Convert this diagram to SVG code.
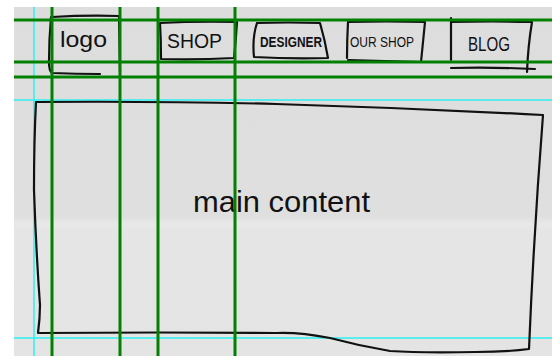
<svg xmlns="http://www.w3.org/2000/svg" width="552" height="356" viewBox="0 0 552 356">
  <defs>
    <linearGradient id="paper" x1="0" y1="0" x2="0" y2="1">
      <stop offset="0" stop-color="#dddddd"/>
      <stop offset="0.6" stop-color="#dfdfdf"/>
      <stop offset="0.622" stop-color="#e9e9e9"/>
      <stop offset="0.64" stop-color="#e5e5e5"/>
      <stop offset="1" stop-color="#e4e4e4"/>
    </linearGradient>
  </defs>
  <style>
    .ink { fill: none; stroke: #111; stroke-width: 2.2; stroke-linecap: round; stroke-linejoin: round; }
    .label { font-family: "Liberation Sans", "DejaVu Sans", sans-serif; fill: #111; }
    .green { stroke: #038003; stroke-width: 3; }
    .cyan { stroke: #2ef0f0; stroke-width: 1.5; }
  </style>

  <rect x="0" y="0" width="552" height="356" fill="#ffffff"/>
  <rect x="14" y="7" width="538" height="349" fill="url(#paper)"/>

  <g id="guides-cyan">
    <line class="cyan" x1="34" y1="7" x2="34" y2="356"/>
    <line class="cyan" x1="14" y1="100" x2="552" y2="100"/>
    <line class="cyan" x1="14" y1="338" x2="552" y2="338"/>
  </g>

  <g id="logo">
    <path class="ink" d="M51,17 Q49,40 49,62 Q49,71 52,73 Q76,74 100,74"/>
    <path class="ink" d="M52,17 Q86,15 119,16 L120,72"/>
    <text class="label" x="60" y="47" font-size="22" textLength="47" lengthAdjust="spacingAndGlyphs">logo</text>
  </g>

  <g id="shop">
    <path class="ink" d="M160,23 Q161,40 161,59 Q197,60 234,58 Q236,40 237,22 Q198,21 160,23"/>
    <text class="label" x="167" y="48" font-size="20" textLength="55" lengthAdjust="spacingAndGlyphs">SHOP</text>
  </g>

  <g id="designer">
    <path class="ink" d="M257,23 Q252,38 254,57 Q291,59 328,58 Q325,40 320,23 Q288,22 257,23"/>
    <text class="label" x="260" y="47" font-size="14" font-weight="bold" textLength="62" lengthAdjust="spacingAndGlyphs">DESIGNER</text>
  </g>

  <g id="our-shop">
    <path class="ink" d="M348,22 Q347,40 347,58"/>
    <path class="ink" d="M348,22 Q386,21 425,22 Q423,42 421,62 Q384,61 348,60"/>
    <text class="label" x="350" y="47" font-size="15" textLength="64" lengthAdjust="spacingAndGlyphs">OUR SHOP</text>
  </g>

  <g id="blog">
    <path class="ink" d="M451,18 L451,60"/>
    <path class="ink" d="M451,22 Q492,21 532,22 Q528,46 527,72"/>
    <path class="ink" d="M451,68 Q493,67 535,69"/>
    <text class="label" x="468" y="51" font-size="21" textLength="42" lengthAdjust="spacingAndGlyphs">BLOG</text>
  </g>

  <g id="main-content">
    <path class="ink" d="M36,102 Q160,101 276,104 Q410,108 543,115 Q534,230 529,349 Q505,352 476,352 Q420,353 390,351 Q360,346 330,338 Q300,332 276,333 Q160,332 38,333 Q40,318 40,305 Q36,250 34,190 Q34,140 36,102"/>
    <text class="label" x="193" y="212" font-size="30" textLength="177" lengthAdjust="spacingAndGlyphs">main content</text>
  </g>

  <g id="guides-green">
    <line class="green" x1="52" y1="7" x2="52" y2="356"/>
    <line class="green" x1="120" y1="7" x2="120" y2="356"/>
    <line class="green" x1="158" y1="7" x2="158" y2="356"/>
    <line class="green" x1="235" y1="7" x2="235" y2="356"/>
    <line class="green" x1="14" y1="20" x2="552" y2="20"/>
    <line class="green" x1="14" y1="62" x2="552" y2="62"/>
    <line class="green" x1="14" y1="77" x2="552" y2="77"/>
  </g>
</svg>
